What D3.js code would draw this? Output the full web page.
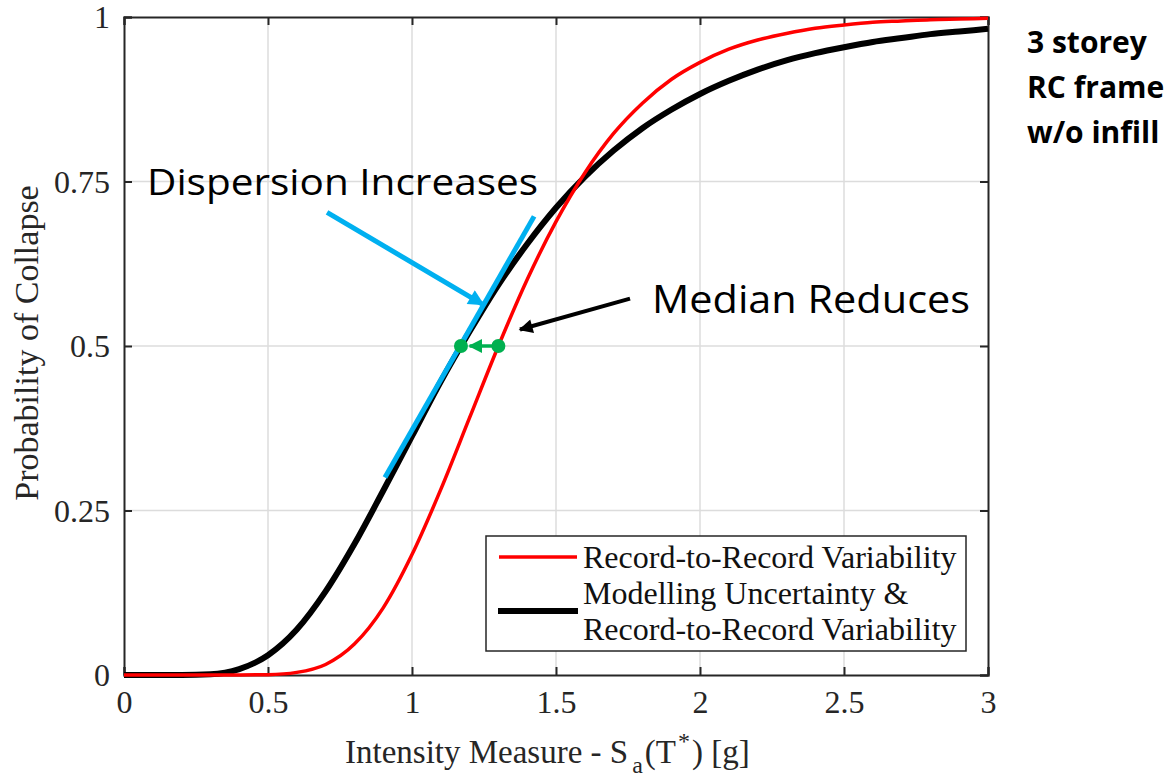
<!DOCTYPE html>
<html>
<head>
<meta charset="utf-8">
<script src="https://cdn.jsdelivr.net/npm/d3@7"></script>
<style>
  body { margin: 0; background: #fff; }
  svg { display: block; }
  .tick text { font-family: "Liberation Serif", "Times New Roman", serif; }
</style>
</head>
<body>
<div id="chart"></div>
<script>
// intensity measure Sa(T*) [g], read every 0.1 g
const imValues = [0, 0.1, 0.2, 0.3, 0.4, 0.5, 0.6, 0.7, 0.8, 0.9, 1.0,
  1.1, 1.2, 1.3, 1.4, 1.5, 1.6, 1.7, 1.8, 1.9, 2.0,
  2.1, 2.2, 2.3, 2.4, 2.5, 2.6, 2.7, 2.8, 2.9, 3.0];

// record-to-record variability only (red)
const recordToRecord = [0, 0, 0, 0, 0.0001, 0.0005, 0.004, 0.016, 0.047, 0.102, 0.183,
  0.282, 0.391, 0.5, 0.601, 0.689, 0.763, 0.823, 0.869, 0.905, 0.931,
  0.951, 0.965, 0.975, 0.983, 0.988, 0.992, 0.994, 0.996, 0.997, 0.998];

// modelling uncertainty & record-to-record variability (black)
const withModelling = [0, 0, 0, 0.001, 0.009, 0.03, 0.069, 0.127, 0.199, 0.28, 0.363,
  0.446, 0.522, 0.593, 0.655, 0.71, 0.757, 0.797, 0.831, 0.859, 0.883,
  0.903, 0.92, 0.934, 0.945, 0.954, 0.962, 0.968, 0.974, 0.978, 0.982];

const xTicks = [0, 0.5, 1, 1.5, 2, 2.5, 3];
const yTicks = [0, 0.25, 0.5, 0.75, 1];
const yTickLabels = ["0", "0.25", "0.5", "0.75", "1"];

// medians (P = 0.5) of the two fragility curves
const medianPoints = [[1.17, 0.5], [1.30, 0.5]];
// tangent line on the black curve, and annotation arrows
const tangentLine = [[0.906, 0.30], [1.424, 0.697]];
const dispersionArrow = [[0.705, 0.703], [1.247, 0.563]];
const medianArrow = [[1.757, 0.572], [1.375, 0.525]];

const legendLabels = ["Record-to-Record Variability", "Modelling Uncertainty &", "Record-to-Record Variability"];
const noteLines = ["3 storey", "RC frame", "w/o infill"];

let margin = {top: 17, right: 182, bottom: 105, left: 124},
    width = 1170 - margin.left - margin.right,
    height = 780 - margin.top - margin.bottom;

let svg = d3.select("#chart")
  .append("svg")
    .attr("width", 1170)
    .attr("height", 780);

let defs = svg.append("defs");
function marker(id, color, w, h) {
  defs.append("marker")
    .attr("id", id)
    .attr("viewBox", "0 0 10 10")
    .attr("refX", 9).attr("refY", 5)
    .attr("markerUnits", "userSpaceOnUse")
    .attr("markerWidth", w).attr("markerHeight", h)
    .attr("orient", "auto")
    .append("path")
      .attr("d", "M0,0 L10,5 L0,10 z")
      .attr("fill", color);
}
marker("arrBlue", "#00b0f0", 18, 16);
marker("arrBlack", "#000", 18, 14);
marker("arrGreen", "#00b050", 14, 14);

let g = svg.append("g")
  .attr("transform", "translate(" + margin.left + "," + margin.top + ")");

let x = d3.scaleLinear().domain([0, 3]).range([0, width]);
let y = d3.scaleLinear().domain([0, 1]).range([height, 0]);

// grid
g.append("g").selectAll("line")
  .data(xTicks.slice(1, -1))
  .enter().append("line")
    .attr("x1", d => x(d)).attr("x2", d => x(d))
    .attr("y1", 0).attr("y2", height)
    .attr("stroke", "#dcdcdc").attr("stroke-width", 1.5);
g.append("g").selectAll("line")
  .data(yTicks.slice(1, -1))
  .enter().append("line")
    .attr("x1", 0).attr("x2", width)
    .attr("y1", d => y(d)).attr("y2", d => y(d))
    .attr("stroke", "#dcdcdc").attr("stroke-width", 1.5);

// axes (MATLAB style: ticks inside, on all four sides)
let axisColor = "#262626";
let xBottom = g.append("g")
  .attr("transform", "translate(0," + height + ")")
  .call(d3.axisBottom(x).tickValues(xTicks).tickSize(-8).tickPadding(15).tickFormat(d3.format("")));
let xTop = g.append("g")
  .call(d3.axisTop(x).tickValues(xTicks).tickSize(-8).tickFormat(""));
let yLeft = g.append("g")
  .call(d3.axisLeft(y).tickValues(yTicks).tickSize(-8).tickPadding(14).tickFormat((d, i) => yTickLabels[i]));
let yRight = g.append("g")
  .attr("transform", "translate(" + width + ",0)")
  .call(d3.axisRight(y).tickValues(yTicks).tickSize(-8).tickFormat(""));

[xBottom, xTop, yLeft, yRight].forEach(a => {
  a.select(".domain").attr("stroke", axisColor).attr("stroke-width", 2);
  a.selectAll(".tick line").attr("stroke", axisColor).attr("stroke-width", 2);
  a.selectAll(".tick text")
    .attr("fill", "#262626")
    .style("font-size", "32px");
});
xBottom.selectAll(".tick text").attr("dy", "0.71em");
yLeft.selectAll(".tick text").attr("dy", "0.33em");

// curves
let line = d3.line()
  .x((d, i) => x(imValues[i]))
  .y(d => y(d))
  .curve(d3.curveMonotoneX);

g.append("path")
  .datum(withModelling)
  .attr("fill", "none")
  .attr("stroke", "#000")
  .attr("stroke-width", 6)
  .attr("d", line);

g.append("path")
  .datum(recordToRecord)
  .attr("fill", "none")
  .attr("stroke", "#ff0000")
  .attr("stroke-width", 3.5)
  .attr("d", line);

// annotations
let pt = d3.line().x(d => x(d[0])).y(d => y(d[1]));

g.append("path")
  .attr("d", pt(tangentLine))
  .attr("stroke", "#00b0f0").attr("stroke-width", 5).attr("fill", "none");

g.append("path")
  .attr("d", pt(dispersionArrow))
  .attr("stroke", "#00b0f0").attr("stroke-width", 5).attr("fill", "none")
  .attr("marker-end", "url(#arrBlue)");

g.append("path")
  .attr("d", pt(medianArrow))
  .attr("stroke", "#000").attr("stroke-width", 4).attr("fill", "none")
  .attr("marker-end", "url(#arrBlack)");

g.append("path")
  .attr("d", pt([medianPoints[1], [medianPoints[0][0] + 0.03, medianPoints[0][1]]]))
  .attr("stroke", "#00b050").attr("stroke-width", 3.5).attr("fill", "none")
  .attr("marker-end", "url(#arrGreen)");

g.selectAll(".median")
  .data(medianPoints)
  .enter().append("circle")
    .attr("class", "median")
    .attr("cx", d => x(d[0]))
    .attr("cy", d => y(d[1]))
    .attr("r", 7)
    .attr("fill", "#00b050");

svg.append("text")
  .attr("x", 147).attr("y", 195)
  .attr("textLength", 391).attr("lengthAdjust", "spacingAndGlyphs")
  .style("font-family", "'Open Sans', sans-serif")
  .style("font-size", "37px")
  .text("Dispersion Increases");

svg.append("text")
  .attr("x", 652).attr("y", 313)
  .attr("textLength", 318).attr("lengthAdjust", "spacingAndGlyphs")
  .style("font-family", "'Open Sans', sans-serif")
  .style("font-size", "39px")
  .text("Median Reduces");

svg.append("g").selectAll("text")
  .data(noteLines)
  .enter().append("text")
    .attr("x", 1027)
    .attr("y", (d, i) => 53 + i * 45)
    .style("font-family", "'Open Sans', sans-serif")
    .style("font-weight", "bold")
    .style("font-size", "30px")
    .text(d => d);

// legend
let legend = svg.append("g");
legend.append("rect")
  .attr("x", 486).attr("y", 536)
  .attr("width", 480).attr("height", 115)
  .attr("fill", "#fff")
  .attr("stroke", axisColor).attr("stroke-width", 1.5);
legend.append("line")
  .attr("x1", 499).attr("x2", 577).attr("y1", 557).attr("y2", 557)
  .attr("stroke", "#ff0000").attr("stroke-width", 3.5);
legend.append("line")
  .attr("x1", 498).attr("x2", 578).attr("y1", 611).attr("y2", 611)
  .attr("stroke", "#000").attr("stroke-width", 6);
legend.selectAll(".lbl")
  .data(legendLabels)
  .enter().append("text")
    .attr("class", "lbl")
    .attr("x", 583)
    .attr("y", (d, i) => 568 + i * 36)
    .style("font-family", "'Liberation Serif', 'Times New Roman', serif")
    .style("font-size", "32px")
    .attr("fill", "#111")
    .text(d => d);

// axis titles
let xt = svg.append("text")
  .attr("x", 345).attr("y", 763)
  .style("font-family", "'Liberation Serif', 'Times New Roman', serif")
  .style("font-size", "33px")
  .attr("fill", "#262626");
xt.append("tspan").text("Intensity Measure - S");
xt.append("tspan").attr("dx", 4).attr("dy", 10).style("font-size", "24px").text("a");
xt.append("tspan").attr("dx", 2).attr("dy", -10).text("(T");
xt.append("tspan").attr("dx", 2).attr("dy", -14).style("font-size", "24px").text("*");
xt.append("tspan").attr("dx", 2).attr("dy", 14).text(") [g]");

svg.append("text")
  .attr("transform", "translate(38,343) rotate(-90)")
  .attr("text-anchor", "middle")
  .style("font-family", "'Liberation Serif', 'Times New Roman', serif")
  .style("font-size", "34px")
  .attr("fill", "#262626")
  .text("Probability of Collapse");
</script>
</body>
</html>
